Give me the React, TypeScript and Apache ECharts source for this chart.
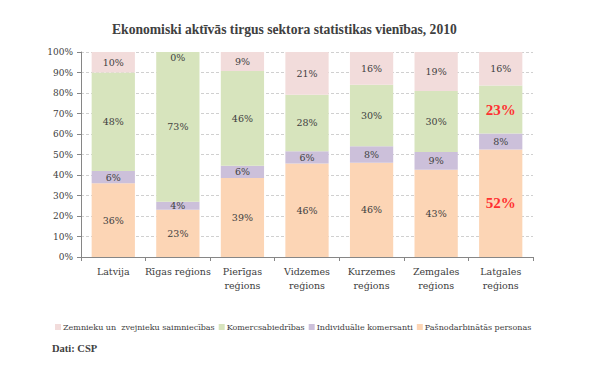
import React, { useEffect, useRef } from "react";
import * as echarts from "echarts";

const categories = ["Latvija", "Rīgas reģions", "Pierīgas\nreģions", "Vidzemes\nreģions", "Kurzemes\nreģions", "Zemgales\nreģions", "Latgales\nreģions"];
const seriesNames = ["Zemnieku un  zvejnieku saimniecības", "Komercsabiedrības", "Individuālie komersanti", "Pašnodarbinātās personas"];
const pasnodarbinatas = [36, 23, 38.5, 45.6, 46, 42.6, 52.4];
const individualie = [6, 4, 6, 6, 8, 8.6, 7.8];
const komercsabiedribas = [48, 73, 46.2, 27.6, 30, 29.8, 23.4];
const zemnieku = [10, 0, 9.3, 20.8, 16, 19, 16.4];
const yTicks = [0, 10, 20, 30, 40, 50, 60, 70, 80, 90, 100];

const FONT = "DejaVu Serif";
const TXT = "#404040";
const txt = (size: number) => ({ fontFamily: FONT, fontSize: size, fontWeight: "normal" as const, fontStyle: "normal" as const, color: TXT });

export default function App() {
  const ref = useRef<HTMLDivElement>(null);
  useEffect(() => {
    document.body.style.margin = "0";
    if (!ref.current) return;
    const chart = echarts.init(ref.current, null, { renderer: "svg" });
    const baseLabel = {
      show: true,
      position: "inside",
      ...txt(9.5),
      formatter: (p: any) => Math.round(p.value) + "%",
    };
    const highlight = (arr: number[], idx: number) =>
      arr.map((v, i) =>
        i === idx
          ? { value: v, label: { color: "#ff3030", fontSize: 15, fontWeight: "bold", fontFamily: "Liberation Serif" } }
          : v
      );
    const mk = (name: string, data: any[], color: string) => ({
      name,
      type: "bar",
      stack: "total",
      barCategoryGap: "33%",
      data,
      itemStyle: { color },
      label: { ...baseLabel },
      emphasis: { disabled: true },
    });
    chart.setOption({
      animation: false,
      textStyle: { fontFamily: FONT, fontWeight: "normal" },
      title: {
        text: "Ekonomiski aktīvās tirgus sektora statistikas vienības, 2010",
        left: 107,
        top: 17,
        textStyle: { fontFamily: "Liberation Serif", fontSize: 13.6, fontWeight: "bold", color: TXT },
      },
      grid: { left: 81, right: 67, top: 52, bottom: 374 - 257 },
      legend: {
        data: seriesNames,
        left: 50,
        top: 318,
        itemWidth: 6,
        itemHeight: 6,
        itemGap: 4,
        icon: "rect",
        textStyle: { ...txt(8), padding: [0, 0, 0, -3] },
      },
      graphic: [
        {
          type: "text",
          left: 52,
          top: 343,
          style: { text: "Dati: CSP", font: "bold 10.5px Liberation Serif", fill: TXT },
        },
      ],
      xAxis: {
        type: "category",
        data: categories,
        axisLine: { lineStyle: { color: "#868686" } },
        axisTick: { show: true, length: 4, lineStyle: { color: "#868686" } },
        axisLabel: { ...txt(9.5), margin: 7, lineHeight: 14, interval: 0 },
      },
      yAxis: {
        type: "value",
        min: yTicks[0],
        max: yTicks[yTicks.length - 1],
        interval: 10,
        axisLine: { show: true, lineStyle: { color: "#868686" } },
        axisTick: { show: true, length: 4, lineStyle: { color: "#868686" } },
        axisLabel: { ...txt(9), margin: 8, formatter: "{value}%" },
        splitLine: { lineStyle: { color: "#d0d0d0", type: [3, 2] } },
      },
      series: [
        mk(seriesNames[3], highlight(pasnodarbinatas, 6), "#fcd5b5"),
        mk(seriesNames[2], individualie, "#ccc0da"),
        mk(seriesNames[1], highlight(komercsabiedribas, 6), "#d7e4bd"),
        mk(
          seriesNames[0],
          zemnieku.map((v) => (v === 0 ? { value: v, label: { offset: [0, 5] } } : v)),
          "#f2dcdb"
        ),
      ],
    });
    return () => chart.dispose();
  }, []);
  return <div ref={ref} style={{ width: 600, height: 374 }} />;
}
